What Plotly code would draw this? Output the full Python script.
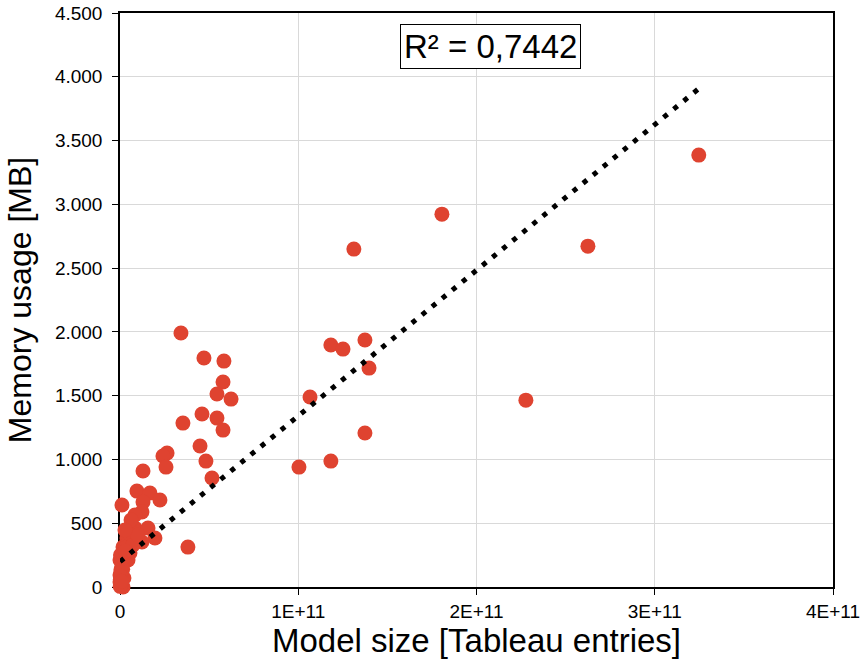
import plotly.graph_objects as go

# Model size [Tableau entries] (in units of 1E+11) and memory usage [MB]
model_size_e11 = [
    3.247, 2.625, 1.806, 1.312, 2.277, 1.183, 1.251, 1.374, 1.397, 1.066,
    1.374, 1.183, 1.004, 0.342, 0.471, 0.583, 0.578, 0.544, 0.623, 0.460,
    0.544, 0.353, 0.578, 0.449, 0.482, 0.516, 0.264, 0.241, 0.258, 0.129,
    0.095, 0.168, 0.224, 0.129, 0.011, 0.123, 0.084, 0.084, 0.157, 0.196,
    0.381, 0.039, 0.123, 0.017, 0.056, 0.000, 0.010, 0.000, 0.000, 0.017,
    0.045, 0.028, 0.073, 0.100, 0.062, 0.028, 0.005, 0.022, 0.005, 0.002,
    0.008, 0.012, 0.003, 0.015, 0.006, 0.020, 0.001, 0.030, 0.004, 0.009,
]
memory_mb = [
    3386, 2672, 2923, 2649, 1465, 1897, 1865, 1936, 1716, 1489,
    1207, 987, 940, 1991, 1795, 1771, 1607, 1513, 1473, 1356,
    1324, 1285, 1230, 1105, 987, 854, 1050, 1027, 940, 909,
    752, 737, 682, 666, 643, 588, 564, 462, 462, 384,
    313, 384, 353, 313, 266, 212, 157, 94, 39, 0,
    212, 306, 329, 408, 525, 447, 133, 70, 16, 60,
    110, 180, 250, 140, 20, 230, 5, 280, 85, 45,
]

# Linear trendline (Excel trendline)
trend_intercept_mb = 199
trend_slope_mb_per_entry = 1.142e-8

x_tick_vals_e11 = [0, 1, 2, 3, 4]
x_tick_text = ["0", "1E+11", "2E+11", "3E+11", "4E+11"]
r2_label = "R² = 0,7442"

x_vals = [v * 1e11 for v in model_size_e11]
trend_x = [min(x_vals), max(x_vals)]
trend_y = [trend_intercept_mb + trend_slope_mb_per_entry * v for v in trend_x]

fig = go.Figure()
fig.add_trace(go.Scatter(
    x=x_vals, y=memory_mb, mode="markers",
    marker=dict(size=15, color="#DF4330", line=dict(width=0)),
    cliponaxis=False, showlegend=False,
))
fig.add_trace(go.Scatter(
    x=trend_x, y=trend_y, mode="lines",
    line=dict(color="black", width=5, dash="5px,8px"),
    cliponaxis=False, showlegend=False,
))

font_family = "Liberation Sans, Arial, sans-serif"
fig.update_layout(
    width=863, height=660,
    margin=dict(l=120, r=30, t=13, b=73),
    paper_bgcolor="white", plot_bgcolor="white",
    separators=",.",
    font=dict(family=font_family, color="black", size=19),
    xaxis=dict(
        range=[0, 4e11],
        tickvals=[v * 1e11 for v in x_tick_vals_e11],
        ticktext=x_tick_text,
        showgrid=True, gridcolor="#d9d9d9", gridwidth=1,
        showline=True, linecolor="black", linewidth=1.5, mirror=True,
        ticks="outside", ticklen=6, tickcolor="black",
        tickfont=dict(size=19),
        zeroline=False, automargin=False,
        title=dict(text="Model size [Tableau entries]", font=dict(size=33), standoff=6),
        layer="below traces",
    ),
    yaxis=dict(
        range=[0, 4500], dtick=500, tickformat=",d",
        showgrid=True, gridcolor="#d9d9d9", gridwidth=1,
        showline=True, linecolor="black", linewidth=1.5, mirror=True,
        ticks="outside", ticklen=6, tickcolor="black",
        tickfont=dict(size=19), ticklabelstandoff=6,
        zeroline=False, automargin=False,
        title=dict(text="Memory usage [MB]", font=dict(size=32), standoff=14),
        layer="below traces",
    ),
    annotations=[dict(
        text=r2_label, xref="paper", yref="paper", x=0.519, y=0.941,
        xanchor="center", yanchor="middle",
        showarrow=False, font=dict(size=33, color="black"),
        bordercolor="black", borderwidth=1, bgcolor="white", borderpad=3,
    )],
)

fig.write_html("out.html")
